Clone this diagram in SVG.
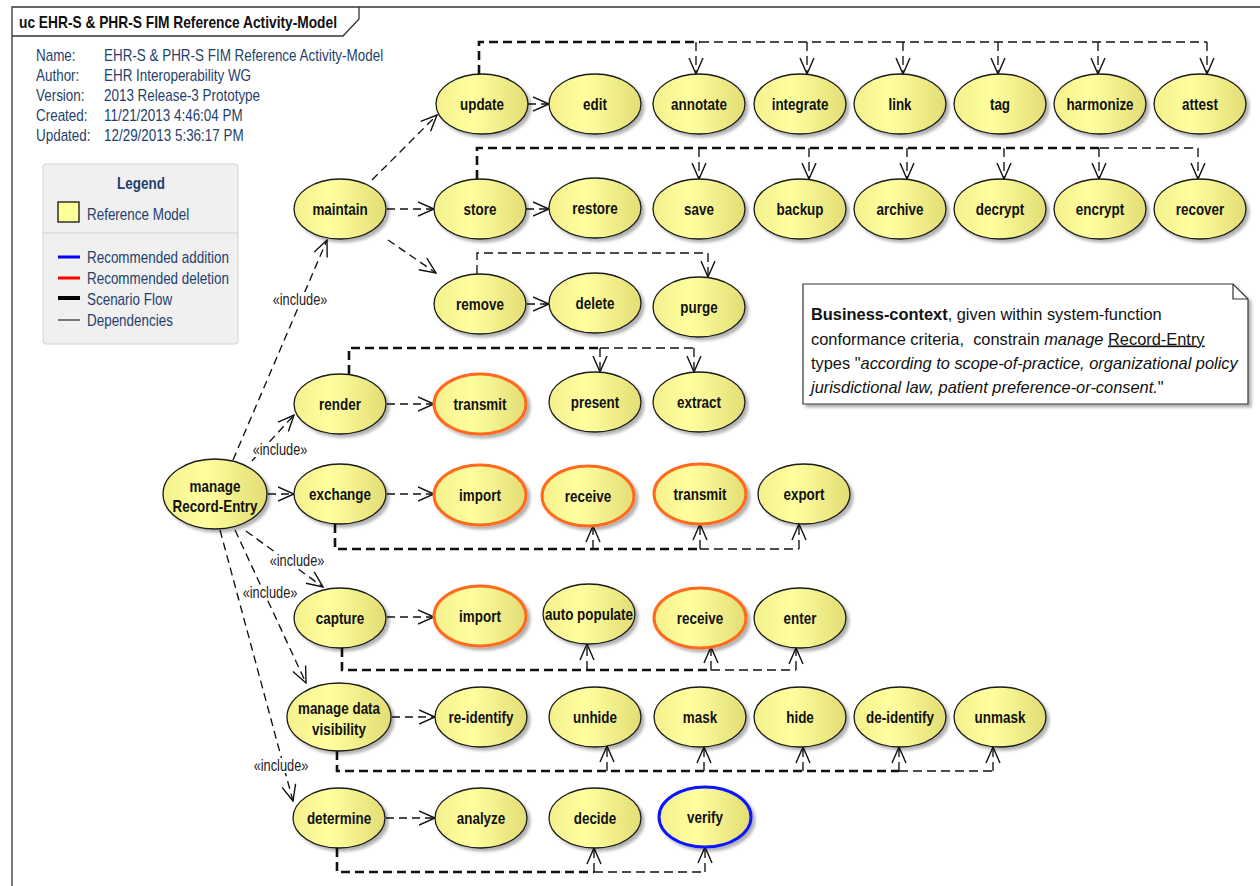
<svg xmlns="http://www.w3.org/2000/svg" width="1260" height="886" viewBox="0 0 1260 886">
<defs>
<linearGradient id="yg" x1="0" y1="0" x2="1" y2="0">
<stop offset="0" stop-color="#f4f08c"/>
<stop offset="0.4" stop-color="#ffffa0"/>
<stop offset="1" stop-color="#e2dd74"/>
</linearGradient>
<filter id="sh" x="-10%" y="-10%" width="130%" height="140%">
<feDropShadow dx="3" dy="3" stdDeviation="1.5" flood-color="#000" flood-opacity="0.3"/>
</filter>
<marker id="oa" markerUnits="userSpaceOnUse" markerWidth="18" markerHeight="18" viewBox="0 0 18 16" refX="16.5" refY="8" orient="auto">
<path d="M0.5,1 L16.5,8 L0.5,15" fill="none" stroke="#111" stroke-width="1.4" stroke-dasharray="none"/>
</marker>
<style>
.nd ellipse{fill:url(#yg);stroke:#1a1a1a;stroke-width:1.3;filter:url(#sh)}
.nd.del ellipse{stroke:#ff6a1f;stroke-width:3}
.nd.add ellipse{stroke:#0a14ff;stroke-width:3}
.nl{font-family:"Liberation Sans",Arial,sans-serif;font-size:16px;font-weight:bold;fill:#111;text-anchor:middle}
.dep{fill:none;stroke:#111;stroke-width:1.35;stroke-dasharray:8 5}
.thick{fill:none;stroke:#111;stroke-width:2.6;stroke-dasharray:9 5}
.thin{fill:none;stroke:#111;stroke-width:1.35;stroke-dasharray:9 5}
.lbl{font-family:"Liberation Sans",Arial,sans-serif;font-size:16px;fill:#222;text-anchor:middle}
.lblbg{fill:#fff}
.hd{font-family:"Liberation Sans",Arial,sans-serif;font-size:16px;fill:#1f3f6c}
.ttl{font-family:"Liberation Sans",Arial,sans-serif;font-size:16px;font-weight:bold;fill:#111}
.nt{font-family:"Liberation Sans",Arial,sans-serif;font-size:16.4px;fill:#111}
.frame{fill:none;stroke:#333;stroke-width:1.3}
</style>
</defs>
<rect width="1260" height="886" fill="#fff"/>

<g id="frame">
<path class="frame" d="M12,886 V7 H1260"/>
<path class="frame" d="M359,7 V19 L343,36 H12"/>
<text class="ttl" transform="translate(19,28) scale(.86,1)">uc EHR-S &amp; PHR-S FIM Reference Activity-Model</text>
</g>

<g id="header">
<text class="hd" transform="translate(36,61) scale(.84,1)">Name:</text>
<text class="hd" transform="translate(36,81) scale(.84,1)">Author:</text>
<text class="hd" transform="translate(36,101) scale(.84,1)">Version:</text>
<text class="hd" transform="translate(36,121) scale(.84,1)">Created:</text>
<text class="hd" transform="translate(36,141) scale(.84,1)">Updated:</text>
<text class="hd" transform="translate(104,61) scale(.84,1)">EHR-S &amp; PHR-S FIM Reference Activity-Model</text>
<text class="hd" transform="translate(104,81) scale(.84,1)">EHR Interoperability WG</text>
<text class="hd" transform="translate(104,101) scale(.84,1)">2013 Release-3 Prototype</text>
<text class="hd" transform="translate(104,121) scale(.84,1)">11/21/2013 4:46:04 PM</text>
<text class="hd" transform="translate(104,141) scale(.84,1)">12/29/2013 5:36:17 PM</text>
</g>

<g id="legend">
<rect x="43" y="164" width="195" height="180" rx="3" fill="#f0f0f0" stroke="#d2d2d2"/>
<line x1="43" y1="233" x2="238" y2="233" stroke="#d2d2d2"/>
<text class="hd" font-weight="bold" font-size="14" text-anchor="middle" transform="translate(141,189) scale(.84,1)">Legend</text>
<rect x="58" y="202" width="21" height="20" fill="#ffff99" stroke="#111" stroke-width="1.3"/>
<text class="hd" transform="translate(87,220) scale(.84,1)">Reference Model</text>
<line x1="58" y1="257" x2="80" y2="257" stroke="#0000ff" stroke-width="3"/>
<line x1="58" y1="278" x2="80" y2="278" stroke="#ff0000" stroke-width="3"/>
<line x1="58" y1="298" x2="80" y2="298" stroke="#000" stroke-width="4"/>
<line x1="58" y1="320" x2="80" y2="320" stroke="#000" stroke-width="1"/>
<text class="hd" transform="translate(87,263) scale(.84,1)">Recommended addition</text>
<text class="hd" transform="translate(87,284) scale(.84,1)">Recommended deletion</text>
<text class="hd" transform="translate(87,305) scale(.84,1)">Scenario Flow</text>
<text class="hd" transform="translate(87,326) scale(.84,1)">Dependencies</text>
</g>

<g id="connectors">
<path class="thick" d="M479,74 V42 H700"/>
<path class="thin" d="M700,42 H1207"/>
<path class="thin" marker-end="url(#oa)" d="M696,42 V74"/>
<path class="thin" marker-end="url(#oa)" d="M807,42 V74"/>
<path class="thin" marker-end="url(#oa)" d="M903,42 V74"/>
<path class="thin" marker-end="url(#oa)" d="M998,42 V74"/>
<path class="thin" marker-end="url(#oa)" d="M1098,42 V74"/>
<path class="thin" marker-end="url(#oa)" d="M1207,42 V74"/>

<path class="thick" d="M477,179 V148 H1100"/>
<path class="thin" d="M1100,148 H1198"/>
<path class="thin" marker-end="url(#oa)" d="M699,148 V179"/>
<path class="thin" marker-end="url(#oa)" d="M809,148 V179"/>
<path class="thin" marker-end="url(#oa)" d="M907,148 V179"/>
<path class="thin" marker-end="url(#oa)" d="M1004,148 V179"/>
<path class="thin" marker-end="url(#oa)" d="M1099,148 V179"/>
<path class="thin" marker-end="url(#oa)" d="M1198,148 V179"/>

<path class="thin" marker-end="url(#oa)" d="M477,274 V253 H708 V277"/>

<path class="thick" d="M349,374 V348 H600"/>
<path class="thin" d="M600,348 H694"/>
<path class="thin" marker-end="url(#oa)" d="M600,348 V372"/>
<path class="thin" marker-end="url(#oa)" d="M694,348 V372"/>

<path class="thick" d="M335,524 V549 H700"/>
<path class="thin" d="M700,549 H799"/>
<path class="thin" marker-end="url(#oa)" d="M593,549 V526"/>
<path class="thin" marker-end="url(#oa)" d="M700,549 V524"/>
<path class="thin" marker-end="url(#oa)" d="M799,549 V524"/>

<path class="thick" d="M342,648 V670 H711"/>
<path class="thin" d="M711,670 H796"/>
<path class="thin" marker-end="url(#oa)" d="M587,670 V644"/>
<path class="thin" marker-end="url(#oa)" d="M711,670 V647"/>
<path class="thin" marker-end="url(#oa)" d="M796,670 V648"/>

<path class="thick" d="M337,751 V771 H899"/>
<path class="thin" d="M899,771 H993"/>
<path class="thin" marker-end="url(#oa)" d="M607,771 V746"/>
<path class="thin" marker-end="url(#oa)" d="M704,771 V747"/>
<path class="thin" marker-end="url(#oa)" d="M803,771 V747"/>
<path class="thin" marker-end="url(#oa)" d="M899,771 V747"/>
<path class="thin" marker-end="url(#oa)" d="M993,771 V747"/>

<path class="thick" d="M337,848 V872 H594"/>
<path class="thin" d="M594,872 H705"/>
<path class="thin" marker-end="url(#oa)" d="M594,872 V848"/>
<path class="thin" marker-end="url(#oa)" d="M705,872 V847"/>

<path class="dep" marker-end="url(#oa)" d="M372,180 L437,115"/>
<path class="dep" marker-end="url(#oa)" d="M387,209 L434,209"/>
<path class="dep" marker-end="url(#oa)" d="M388,240 L436,273"/>
<path class="dep" marker-end="url(#oa)" d="M528,104 L549,104"/>
<path class="dep" marker-end="url(#oa)" d="M526,209 L549,209"/>
<path class="dep" marker-end="url(#oa)" d="M527,304 L549,304"/>
<path class="dep" marker-end="url(#oa)" d="M387,404 L434,404"/>
<path class="dep" marker-end="url(#oa)" d="M268,494 L294,494"/>
<path class="dep" marker-end="url(#oa)" d="M387,494 L434,494"/>
<path class="dep" marker-end="url(#oa)" d="M387,617 L434,617"/>
<path class="dep" marker-end="url(#oa)" d="M392,717 L435,717"/>
<path class="dep" marker-end="url(#oa)" d="M386,818 L435,818"/>

<path class="dep" marker-end="url(#oa)" d="M233,460 L327,240"/>
<path class="dep" marker-end="url(#oa)" d="M252,461 L294,415"/>
<path class="dep" marker-end="url(#oa)" d="M246,531 L323,587"/>
<path class="dep" marker-end="url(#oa)" d="M235,530 L306,683"/>
<path class="dep" marker-end="url(#oa)" d="M220,530 L293,801"/>

<rect class="lblbg" x="272" y="292" width="57" height="15"/>
<text class="lbl" transform="translate(300,305) scale(.8,1)">«include»</text>
<rect class="lblbg" x="252" y="442" width="57" height="15"/>
<text class="lbl" transform="translate(280,455) scale(.8,1)">«include»</text>
<rect class="lblbg" x="269" y="553" width="57" height="15"/>
<text class="lbl" transform="translate(297,566) scale(.8,1)">«include»</text>
<rect class="lblbg" x="242" y="585" width="57" height="15"/>
<text class="lbl" transform="translate(270,598) scale(.8,1)">«include»</text>
<rect class="lblbg" x="253" y="758" width="57" height="15"/>
<text class="lbl" transform="translate(281,771) scale(.8,1)">«include»</text>
</g>

<g id="n-update" class="nd"><ellipse cx="482" cy="104" rx="46" ry="30"/><text class="nl" transform="translate(482,110) scale(.84,1)">update</text></g>
<g id="n-edit" class="nd"><ellipse cx="595" cy="104" rx="46" ry="30"/><text class="nl" transform="translate(595,110) scale(.84,1)">edit</text></g>
<g id="n-annotate" class="nd"><ellipse cx="699" cy="104" rx="46" ry="30"/><text class="nl" transform="translate(699,110) scale(.84,1)">annotate</text></g>
<g id="n-integrate" class="nd"><ellipse cx="800" cy="104" rx="46" ry="30"/><text class="nl" transform="translate(800,110) scale(.84,1)">integrate</text></g>
<g id="n-link" class="nd"><ellipse cx="900" cy="104" rx="46" ry="30"/><text class="nl" transform="translate(900,110) scale(.84,1)">link</text></g>
<g id="n-tag" class="nd"><ellipse cx="1000" cy="104" rx="46" ry="30"/><text class="nl" transform="translate(1000,110) scale(.84,1)">tag</text></g>
<g id="n-harmonize" class="nd"><ellipse cx="1100" cy="104" rx="46" ry="30"/><text class="nl" transform="translate(1100,110) scale(.84,1)">harmonize</text></g>
<g id="n-attest" class="nd"><ellipse cx="1200" cy="104" rx="46" ry="30"/><text class="nl" transform="translate(1200,110) scale(.84,1)">attest</text></g>

<g id="n-store" class="nd"><ellipse cx="480" cy="209" rx="46" ry="30"/><text class="nl" transform="translate(480,215) scale(.84,1)">store</text></g>
<g id="n-restore" class="nd"><ellipse cx="595" cy="208" rx="46" ry="30"/><text class="nl" transform="translate(595,214) scale(.84,1)">restore</text></g>
<g id="n-save" class="nd"><ellipse cx="699" cy="209" rx="46" ry="30"/><text class="nl" transform="translate(699,215) scale(.84,1)">save</text></g>
<g id="n-backup" class="nd"><ellipse cx="800" cy="209" rx="46" ry="30"/><text class="nl" transform="translate(800,215) scale(.84,1)">backup</text></g>
<g id="n-archive" class="nd"><ellipse cx="900" cy="209" rx="46" ry="30"/><text class="nl" transform="translate(900,215) scale(.84,1)">archive</text></g>
<g id="n-decrypt" class="nd"><ellipse cx="1000" cy="209" rx="46" ry="30"/><text class="nl" transform="translate(1000,215) scale(.84,1)">decrypt</text></g>
<g id="n-encrypt" class="nd"><ellipse cx="1100" cy="209" rx="46" ry="30"/><text class="nl" transform="translate(1100,215) scale(.84,1)">encrypt</text></g>
<g id="n-recover" class="nd"><ellipse cx="1200" cy="209" rx="46" ry="30"/><text class="nl" transform="translate(1200,215) scale(.84,1)">recover</text></g>

<g id="n-maintain" class="nd"><ellipse cx="340" cy="209" rx="46" ry="30"/><text class="nl" transform="translate(340,215) scale(.84,1)">maintain</text></g>

<g id="n-remove" class="nd"><ellipse cx="480" cy="304" rx="46" ry="30"/><text class="nl" transform="translate(480,310) scale(.84,1)">remove</text></g>
<g id="n-delete" class="nd"><ellipse cx="595" cy="303" rx="46" ry="30"/><text class="nl" transform="translate(595,309) scale(.84,1)">delete</text></g>
<g id="n-purge" class="nd"><ellipse cx="699" cy="307" rx="46" ry="30"/><text class="nl" transform="translate(699,313) scale(.84,1)">purge</text></g>

<g id="n-render" class="nd"><ellipse cx="340" cy="404" rx="46" ry="30"/><text class="nl" transform="translate(340,410) scale(.84,1)">render</text></g>
<g id="n-transmit-r" class="nd del"><ellipse cx="480" cy="404" rx="46" ry="30"/><text class="nl" transform="translate(480,410) scale(.84,1)">transmit</text></g>
<g id="n-present" class="nd"><ellipse cx="595" cy="402" rx="46" ry="30"/><text class="nl" transform="translate(595,408) scale(.84,1)">present</text></g>
<g id="n-extract" class="nd"><ellipse cx="699" cy="402" rx="46" ry="30"/><text class="nl" transform="translate(699,408) scale(.84,1)">extract</text></g>

<g id="n-manage-record-entry" class="nd"><ellipse cx="215" cy="494" rx="52" ry="35"/><text class="nl" transform="translate(215,492) scale(.84,1)">manage</text><text class="nl" transform="translate(215,512) scale(.84,1)">Record-Entry</text></g>

<g id="n-exchange" class="nd"><ellipse cx="340" cy="494" rx="46" ry="30"/><text class="nl" transform="translate(340,500) scale(.84,1)">exchange</text></g>
<g id="n-import-x" class="nd del"><ellipse cx="480" cy="495" rx="46" ry="30"/><text class="nl" transform="translate(480,501) scale(.84,1)">import</text></g>
<g id="n-receive-x" class="nd del"><ellipse cx="588" cy="496" rx="46" ry="30"/><text class="nl" transform="translate(588,502) scale(.84,1)">receive</text></g>
<g id="n-transmit-x" class="nd del"><ellipse cx="700" cy="494" rx="46" ry="30"/><text class="nl" transform="translate(700,500) scale(.84,1)">transmit</text></g>
<g id="n-export" class="nd"><ellipse cx="804" cy="494" rx="46" ry="30"/><text class="nl" transform="translate(804,500) scale(.84,1)">export</text></g>

<g id="n-capture" class="nd"><ellipse cx="340" cy="618" rx="46" ry="30"/><text class="nl" transform="translate(340,624) scale(.84,1)">capture</text></g>
<g id="n-import-c" class="nd del"><ellipse cx="480" cy="616" rx="46" ry="30"/><text class="nl" transform="translate(480,622) scale(.84,1)">import</text></g>
<g id="n-auto-populate" class="nd"><ellipse cx="589" cy="614" rx="46" ry="30"/><text class="nl" transform="translate(589,620) scale(.84,1)">auto populate</text></g>
<g id="n-receive-c" class="nd del"><ellipse cx="700" cy="618" rx="46" ry="30"/><text class="nl" transform="translate(700,624) scale(.84,1)">receive</text></g>
<g id="n-enter" class="nd"><ellipse cx="800" cy="618" rx="46" ry="30"/><text class="nl" transform="translate(800,624) scale(.84,1)">enter</text></g>

<g id="n-manage-data-visibility" class="nd"><ellipse cx="339" cy="717" rx="52" ry="34"/><text class="nl" transform="translate(339,714) scale(.84,1)">manage data</text><text class="nl" transform="translate(339,735) scale(.84,1)">visibility</text></g>
<g id="n-re-identify" class="nd"><ellipse cx="481" cy="717" rx="46" ry="30"/><text class="nl" transform="translate(481,723) scale(.84,1)">re-identify</text></g>
<g id="n-unhide" class="nd"><ellipse cx="595" cy="717" rx="46" ry="30"/><text class="nl" transform="translate(595,723) scale(.84,1)">unhide</text></g>
<g id="n-mask" class="nd"><ellipse cx="700" cy="717" rx="46" ry="30"/><text class="nl" transform="translate(700,723) scale(.84,1)">mask</text></g>
<g id="n-hide" class="nd"><ellipse cx="800" cy="717" rx="46" ry="30"/><text class="nl" transform="translate(800,723) scale(.84,1)">hide</text></g>
<g id="n-de-identify" class="nd"><ellipse cx="900" cy="717" rx="46" ry="30"/><text class="nl" transform="translate(900,723) scale(.84,1)">de-identify</text></g>
<g id="n-unmask" class="nd"><ellipse cx="1000" cy="717" rx="46" ry="30"/><text class="nl" transform="translate(1000,723) scale(.84,1)">unmask</text></g>

<g id="n-determine" class="nd"><ellipse cx="339" cy="818" rx="46" ry="30"/><text class="nl" transform="translate(339,824) scale(.84,1)">determine</text></g>
<g id="n-analyze" class="nd"><ellipse cx="481" cy="818" rx="46" ry="30"/><text class="nl" transform="translate(481,824) scale(.84,1)">analyze</text></g>
<g id="n-decide" class="nd"><ellipse cx="595" cy="818" rx="46" ry="30"/><text class="nl" transform="translate(595,824) scale(.84,1)">decide</text></g>
<g id="n-verify" class="nd add"><ellipse cx="705" cy="817" rx="46" ry="30"/><text class="nl" transform="translate(705,823) scale(.84,1)">verify</text></g>

<g id="note">
<path d="M803,284 H1233 L1248,299 V404 H803 Z" fill="#fff" stroke="#333" stroke-width="1.2" filter="url(#sh)"/>
<path d="M1233,284 V299 H1248" fill="none" stroke="#333" stroke-width="1.2"/>
<text class="nt" x="811" y="320"><tspan font-weight="bold">Business-context</tspan>, given within system-function</text>
<text class="nt" x="811" y="344.5">conformance criteria, &#160;constrain <tspan font-style="italic">manage</tspan> <tspan text-decoration="underline">Record-Entry</tspan></text>
<text class="nt" x="811" y="369">types &quot;<tspan font-style="italic">according to scope-of-practice, organizational policy</tspan></text>
<text class="nt" x="811" y="393"><tspan font-style="italic">jurisdictional law, patient preference-or-consent.</tspan>&quot;</text>
</g>
</svg>
